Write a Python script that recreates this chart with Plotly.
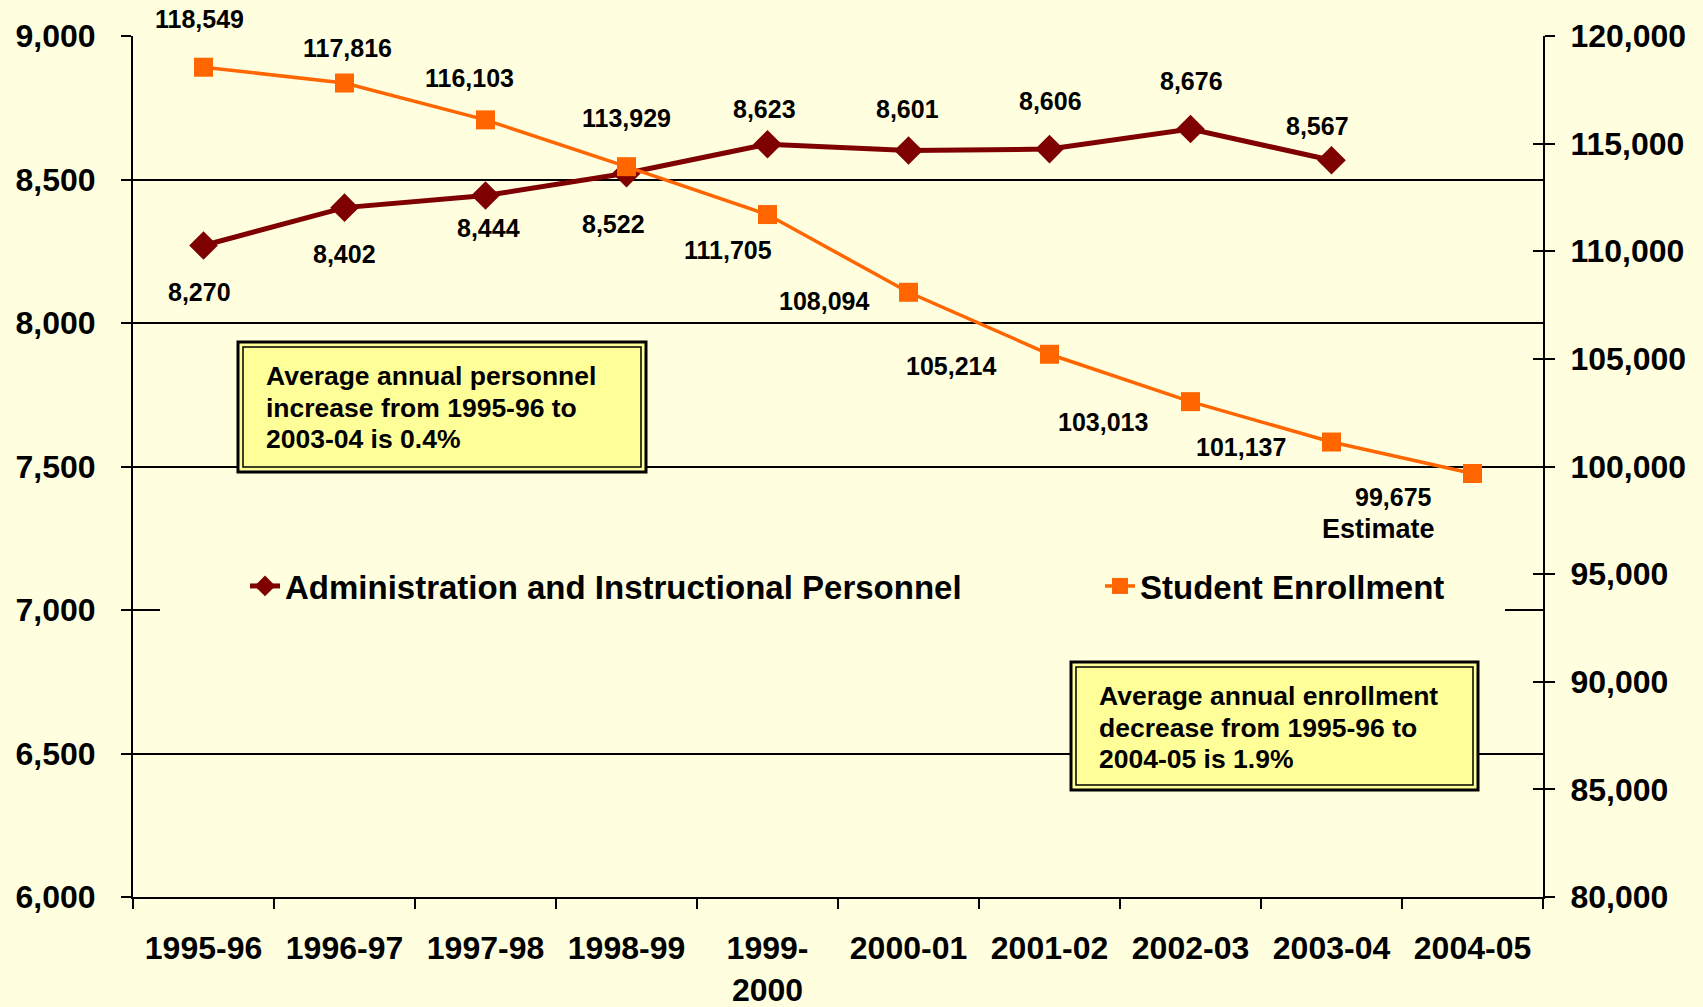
import plotly.graph_objects as go

# ─── DATA ─────────────────────────────────────────────
years = ["1995-96", "1996-97", "1997-98", "1998-99", "1999-<br>2000",
         "2000-01", "2001-02", "2002-03", "2003-04", "2004-05"]
personnel = [8270, 8402, 8444, 8522, 8623, 8601, 8606, 8676, 8567]
enrollment = [118549, 117816, 116103, 113929, 111705, 108094,
              105214, 103013, 101137, 99675]

personnel_note = ["Average annual personnel", "increase from 1995-96 to", "2003-04 is 0.4%"]
enrollment_note = ["Average annual enrollment", "decrease from 1995-96 to", "2004-05 is 1.9%"]

# label offsets (px) from each marker: (dx, dy), dy positive = down
personnel_off = [(-4, 46), (0, 46), (3, 32), (-13, 51), (-3, -35),
                 (-1, -42), (1, -48), (1, -48), (-14, -34)]
enrollment_off = [(-4, -48), (3, -35), (-16, -42), (0, -49), (-40, 35),
                  (-85, 9), (-99, 12), (-88, 20), (-91, 5), (-79, 23)]

# ─── STYLE ────────────────────────────────────────────
W, H = 1703, 1007
L, R, T, B = 133, 1543, 36, 897      # plot area in px
BG = "#FFFFE0"
BOX = "#FFFF99"
MAROON = "#7F0000"
ORANGE = "#FF6600"
FONT = "Liberation Sans, Arial, sans-serif"


def px(x):
    return (x - L) / (R - L)


def py(y):
    return (B - y) / (B - T)


fig = go.Figure()
fig.add_trace(go.Scatter(
    x=years[:len(personnel)], y=personnel, name="Administration and Instructional Personnel",
    mode="lines+markers", line=dict(color=MAROON, width=5),
    marker=dict(symbol="diamond", size=22, color=MAROON), legend="legend",
))
fig.add_trace(go.Scatter(
    x=years, y=enrollment, name="Student Enrollment", yaxis="y2",
    mode="lines+markers", line=dict(color=ORANGE, width=3.5),
    marker=dict(symbol="square", size=19, color=ORANGE), legend="legend2",
))
# empty helper trace so the inside tick axis gets drawn
fig.add_trace(go.Scatter(x=[years[0]], y=[None], yaxis="y3", showlegend=False, hoverinfo="skip"))

# data labels
lab_font = dict(family=FONT, size=25, color="black", weight="bold")
for x, v, (dx, dy) in zip(years, personnel, personnel_off):
    fig.add_annotation(x=x, y=v, yref="y", text=f"{v:,}", showarrow=False,
                       xshift=dx, yshift=-dy, font=lab_font)
for x, v, (dx, dy) in zip(years, enrollment, enrollment_off):
    fig.add_annotation(x=x, y=v, yref="y2", text=f"{v:,}", showarrow=False,
                       xshift=dx, yshift=-dy, font=lab_font)
fig.add_annotation(x=years[-1], y=enrollment[-1], yref="y2", text="Estimate", showarrow=False,
                   xshift=-94, yshift=-55, font=dict(family=FONT, size=27, color="black", weight="bold"))

# note boxes (double border)
shapes = [
    # hide 7000 gridline behind legend
    dict(type="rect", xref="paper", yref="paper", x0=px(160), x1=px(1505), y0=py(595), y1=py(625),
         fillcolor=BG, line=dict(width=0), layer="above"),
]
for (x0, y0, x1, y1) in [(238, 342, 646, 472), (1071, 662, 1478, 790)]:
    shapes.append(dict(type="rect", xref="paper", yref="paper", x0=px(x0), x1=px(x1), y0=py(y0), y1=py(y1),
                       fillcolor=BOX, line=dict(color="black", width=3), layer="above"))
    shapes.append(dict(type="rect", xref="paper", yref="paper", x0=px(x0 + 5), x1=px(x1 - 5),
                       y0=py(y0 + 5), y1=py(y1 - 5), line=dict(color="black", width=1.5), layer="above"))
fig.update_layout(shapes=shapes)

note_font = dict(family=FONT, size=26.5, color="black", weight="bold")
for lines, x0, y0 in [(personnel_note, 264, 376), (enrollment_note, 1097, 696)]:
    for i, line in enumerate(lines):
        fig.add_annotation(xref="paper", yref="paper", x=px(x0), y=py(y0 + 31.5 * i), text=line,
                           xanchor="left", yanchor="middle", showarrow=False, font=note_font)

axis_font = dict(family=FONT, size=32, color="black", weight="bold")
leg_font = dict(family=FONT, size=33, color="black", weight="bold")
fig.update_layout(
    width=W, height=H,
    margin=dict(l=L, r=W - R, t=T, b=H - B),
    paper_bgcolor=BG, plot_bgcolor=BG,
    font=dict(family=FONT, color="black"),
    xaxis=dict(
        type="category", range=[-0.5, 9.5], tickson="boundaries", tickangle=0,
        ticks="outside", ticklen=10, tickwidth=2, tickcolor="black",
        showline=True, linecolor="black", linewidth=2, showgrid=False,
        tickfont=dict(family=FONT, size=32, color="black", weight="bold"),
        ticklabelstandoff=22, automargin=False,
    ),
    yaxis=dict(
        range=[6000, 9000], dtick=500, tickformat=",",
        showgrid=True, gridcolor="black", gridwidth=1.5, zeroline=False,
        ticks="outside", ticklen=10, tickwidth=2, tickcolor="black",
        showline=True, linecolor="black", linewidth=2,
        tickfont=axis_font, ticklabelstandoff=19, automargin=False,
    ),
    yaxis2=dict(
        overlaying="y", side="right", range=[80000, 120000], dtick=5000, tickformat=",",
        showgrid=False, zeroline=False,
        ticks="outside", ticklen=10, tickwidth=2, tickcolor="black",
        showline=True, linecolor="black", linewidth=2,
        tickfont=axis_font, ticklabelstandoff=9, automargin=False,
    ),
    yaxis3=dict(
        overlaying="y", side="right", range=[80000, 120000], dtick=5000,
        showgrid=False, zeroline=False, showticklabels=False, showline=False,
        ticks="inside", ticklen=10, tickwidth=2, tickcolor="black", automargin=False,
    ),
    legend=dict(
        orientation="h", x=px(245), y=py(586), xanchor="left", yanchor="middle",
        bgcolor="rgba(0,0,0,0)", font=leg_font,
    ),
    legend2=dict(
        orientation="h", x=px(1100), y=py(586), xanchor="left", yanchor="middle",
        bgcolor="rgba(0,0,0,0)", font=leg_font,
    ),
    showlegend=True,
)

fig.write_html("out.html", config={"displayModeBar": False},
               post_script="document.body.style.margin='0';")
